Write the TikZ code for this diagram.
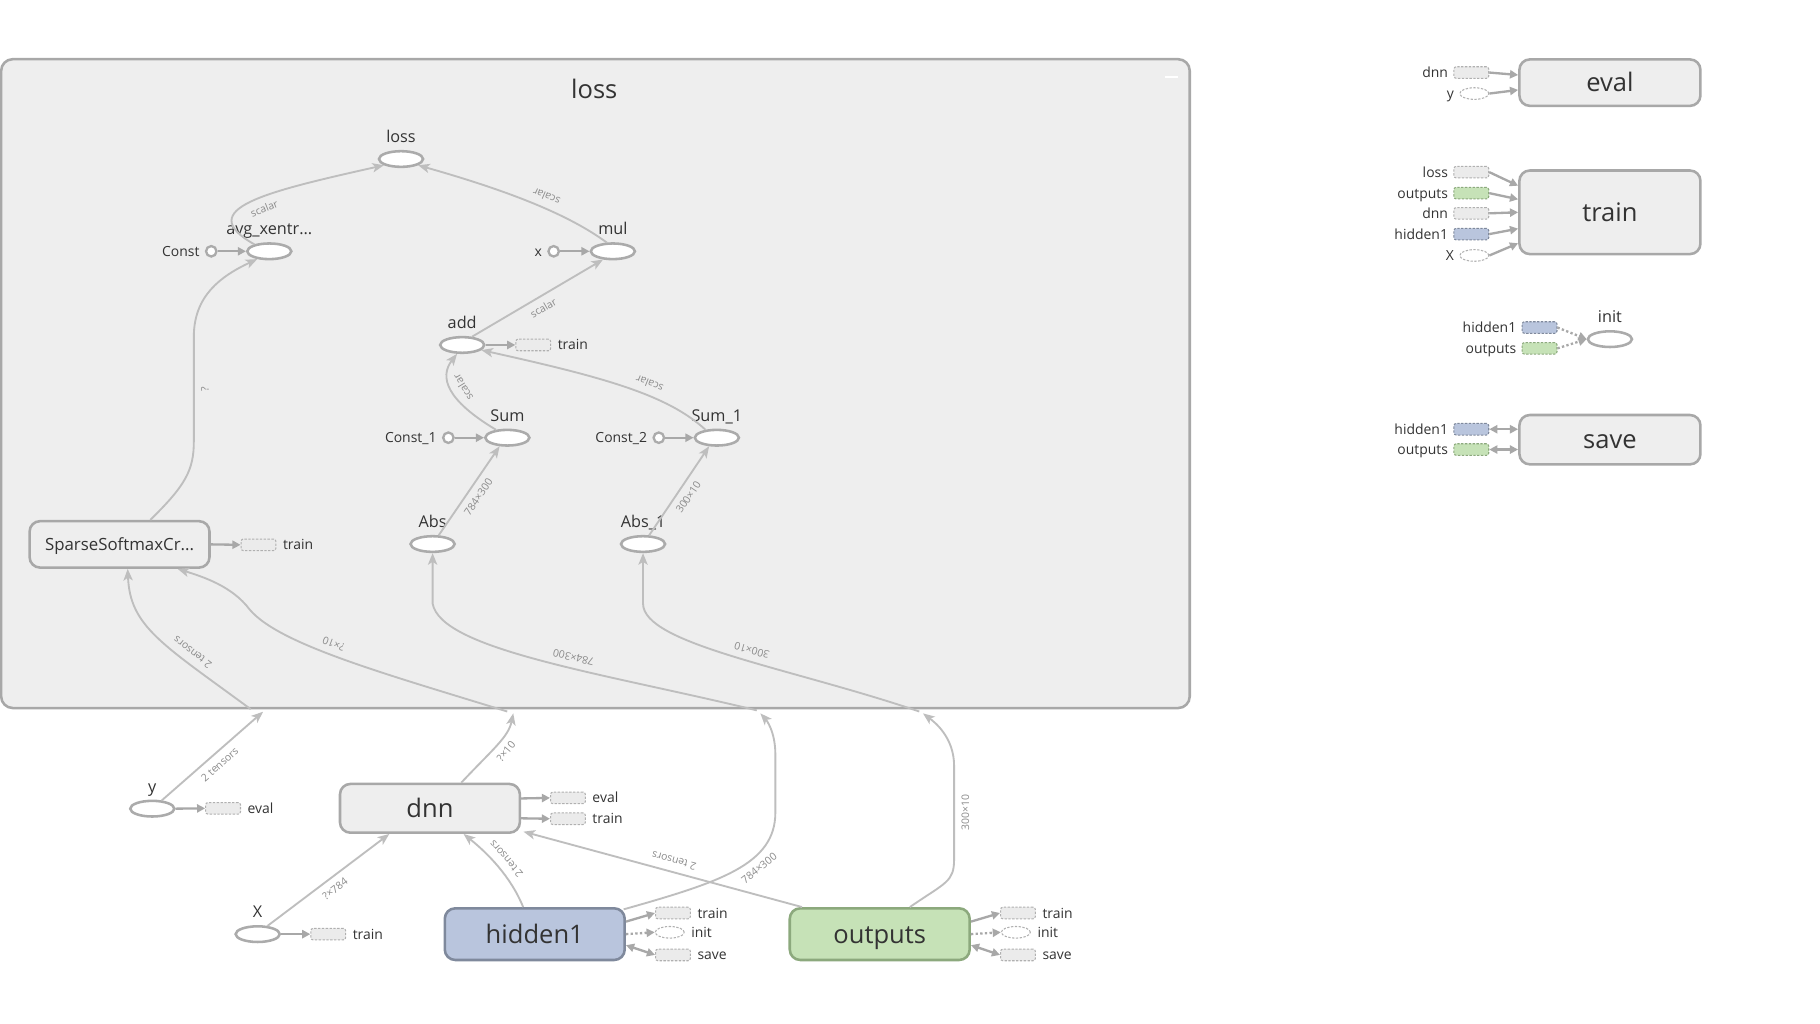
\documentclass[tikz,border=0pt]{standalone}
\usepackage{fontspec}
\setmainfont{Open Sans}
\usetikzlibrary{arrows.meta,shapes.geometric}

\definecolor{grpfill}{HTML}{EEEEEE}
\definecolor{grpline}{HTML}{A8A8A8}
\definecolor{opline}{HTML}{ABABAB}
\definecolor{edgec}{HTML}{BEBEBE}
\definecolor{tipc}{HTML}{A8A8A8}
\definecolor{txt}{HTML}{333333}
\definecolor{elabc}{HTML}{8A8A8A}
\definecolor{hidfill}{HTML}{B9C5DD}
\definecolor{hidline}{HTML}{7F899C}
\definecolor{outfill}{HTML}{C6E2B7}
\definecolor{outstroke}{HTML}{8CA97D}
\definecolor{stubline}{HTML}{B0B0B0}
\definecolor{stubfill}{HTML}{EBEBEB}

\newcommand{\setfs}[1]{\fontsize{#1}{#1}\selectfont}

\tikzset{
  op/.style={ellipse, draw=opline, fill=white, line width=2.2pt,
    minimum width=38pt, minimum height=13.5pt, inner sep=0pt},
  cst/.style={circle, draw=opline, fill=white, line width=2pt,
    minimum size=9pt, inner sep=0pt},
  grp/.style={rectangle, rounded corners=9pt, draw=grpline, fill=grpfill,
    line width=2.2pt, minimum width=155pt, minimum height=41pt,
    inner sep=0pt, font=\setfs{22}, text=txt,
    text height=15.5pt, text depth=0pt},
  stub/.style={rectangle, rounded corners=2pt, draw=stubline, fill=stubfill,
    line width=0.9pt, dash pattern=on 2pt off 1.3pt,
    minimum width=30pt, minimum height=10pt, inner sep=0pt},
  stubell/.style={stub, ellipse, fill=white, minimum width=25pt},
  hstub/.style={stub, fill=hidfill, draw=hidline},
  ostub/.style={stub, fill=outfill, draw=outstroke},
  smlab/.style={font=\setfs{12}, text=txt, inner sep=0pt},
  oplab/.style={label={[font=\setfs{14}, text=txt, inner sep=0pt,
    anchor=base, label distance=6.5pt]above:#1}},
  rlab/.style={label={[smlab, anchor=base west, yshift=-4.3pt,
    label distance=5.5pt]right:#1}},
  llab/.style={label={[smlab, anchor=base east, yshift=-4.3pt,
    label distance=4.5pt]left:#1}},
  flow/.style={draw=edgec, line width=1.6pt,
    -{Stealth[length=10pt,width=8pt,inset=2.5pt]}},
  feed/.style={draw=tipc, line width=2pt, -{Triangle[length=7pt,width=7pt]}},
  ctl/.style={feed, dash pattern=on 2pt off 2pt},
  twoway/.style={draw=tipc, line width=2pt,
    {Triangle[length=7pt,width=7pt]}-{Triangle[length=7pt,width=7pt]}},
  elab/.style={font=\setfs{9}, text=elabc, sloped, allow upside down,
    below=4.5pt, inner sep=1pt},
}

\begin{document}
\begin{tikzpicture}[x=1pt,y=-1pt]
\fill[white] (0,0) rectangle (1568,882);
\useasboundingbox (0,0) rectangle (1568,882);

% ---- the "loss" name scope ----
\node[grp, minimum width=1024pt, minimum height=559pt, rounded corners=10pt]
  (lossgrp) at (513,330.5) {};
\node[font=\setfs{22}, text=txt] (losstitle) at (512,77) {loss};
\draw[white, line width=1.6pt] (1004,66) -- (1015,66);

% operations inside the scope
\node[op, oplab=loss] (lossop) at (345.5,137) {};
\node[op, oplab={avg\_xentr...}] (avg) at (232,216.5) {};
\node[cst, llab=Const] (const) at (182,216.5) {};
\node[op, oplab=mul] (mul) at (528,216.5) {};
\node[cst, llab=x] (xc) at (477,216.5) {};
\node[op, oplab=add] (add) at (398.2,297.2) {};
\node[stub, rlab=train] (addtrain) at (459.4,297.2) {};
\node[op, oplab=Sum] (sum) at (437.1,377.1) {};
\node[cst, llab=Const\_1] (const1) at (386.3,377.1) {};
\node[op, oplab=Sum\_1] (sum1) at (617.6,377.1) {};
\node[cst, llab=Const\_2] (const2) at (567.6,377.1) {};
\node[op, oplab=Abs] (abs) at (372.7,468.7) {};
\node[op, oplab=Abs\_1] (abs1) at (554,468.7) {};
\node[grp, font=\setfs{14.5}, text height=10.5pt, minimum height=40pt] (sparse) at (103,469) {SparseSoftmaxCr...};
\node[stub, rlab=train] (sparsetrain) at (222.7,469.4) {};

% points where edges cross the scope border
\coordinate (yin) at (226.6,613.2);
\coordinate (yin2) at (216,611);
\coordinate (dnnin) at (442.2,614.6);
\coordinate (dnnin2) at (437,613);
\coordinate (hidin) at (655.1,614.6);
\coordinate (hidin2) at (652,612);
\coordinate (outin) at (795.2,614.6);
\coordinate (outin2) at (792,613);

% ---- top-level nodes ----
\node[op, oplab=y] (y) at (131.2,696.7) {};
\node[stub, rlab=eval] (yeval) at (192.2,696.4) {};
\node[grp, minimum height=42pt] (dnn) at (370.4,696.4) {dnn};
\node[stub, rlab=eval] (dnneval) at (489.3,687.4) {};
\node[stub, rlab=train] (dnntrain) at (489.3,705.4) {};
\node[op, oplab=X] (xin) at (222,804.8) {};
\node[stub, rlab=train] (xtrain) at (282.8,804.8) {};
\node[grp, fill=hidfill, draw=hidline, minimum height=44.5pt] (hid) at (460.7,804.8) {hidden1};
\node[stub, rlab=train] (hidtrain) at (579.8,786.6) {};
\node[stubell, rlab=init] (hidinit) at (577,803.2) {};
\node[stub, rlab=save] (hidsave) at (579.8,822.7) {};
\node[grp, fill=outfill, draw=outstroke, minimum height=44.5pt] (out) at (757.9,804.8) {outputs};
\node[stub, rlab=train] (outtrain) at (877,786.6) {};
\node[stubell, rlab=init] (outinit) at (875.2,803.2) {};
\node[stub, rlab=save] (outsave) at (877,822.7) {};

% ---- auxiliary nodes on the right ----
\node[grp, minimum width=156pt, minimum height=40pt] (eval) at (1387,71.2) {eval};
\node[stub, llab=dnn] (evdnn) at (1267.6,62.5) {};
\node[stubell, llab=y] (evy) at (1270.2,80.6) {};
\node[grp, minimum width=156pt, minimum height=72pt] (train) at (1387,182.9) {train};
\node[stub, llab=loss] (trloss) at (1267.6,148.3) {};
\node[ostub, llab=outputs] (trout) at (1267.6,166.4) {};
\node[stub, llab=dnn] (trdnn) at (1267.6,183.8) {};
\node[hstub, llab=hidden1] (trhid) at (1267.6,201.7) {};
\node[stubell, llab=X] (trx) at (1270.2,220.1) {};
\node[op, oplab=init] (init) at (1387,292.2) {};
\node[hstub, llab=hidden1] (inhid) at (1326.4,282.2) {};
\node[ostub, llab=outputs] (inout) at (1326.4,300.1) {};
\node[grp, minimum width=156pt, minimum height=42.5pt] (save) at (1387,378.8) {save};
\node[hstub, llab=hidden1] (svhid) at (1267.6,369.8) {};
\node[ostub, llab=outputs] (svout) at (1267.6,387.3) {};

% ---- data flow inside the scope ----
\draw[flow] (avg.155) .. controls (165,180) and (230,165) ..
  node[elab, pos=0.55] {scalar} (lossop.200);
\draw[flow] (mul.125) .. controls (490,185) and (440,165) ..
  node[elab, pos=0.45] {scalar} (lossop.-20);
\draw[flow] (add.40) -- node[elab] {scalar} (mul.220);
\draw[flow] (sum.145) .. controls (385,345) and (378,325) ..
  node[elab, pos=0.45] {scalar} (add.240);
\draw[flow] (sum1.145) .. controls (575,340) and (520,325) ..
  node[elab, pos=0.4] {scalar} (add.-15);
\draw[flow] (abs.55) -- node[elab] {784×300} (sum.228);
\draw[flow] (abs1.55) -- node[elab] {300×10} (sum1.228);
\draw[flow] ([xshift=26.5pt]sparse.north) .. controls (160,418) and (167,405) ..
  (167,380) -- node[elab] {?} (167,290) .. controls (167,255) and (190,238) .. (avg.213);

\draw[feed] (const.east) -- (avg.west);
\draw[feed] (xc.east) -- (mul.west);
\draw[feed] (const1.east) -- (sum.west);
\draw[feed] (const2.east) -- (sum1.west);
\draw[feed] (add.east) -- (addtrain.west);
\draw[feed] (sparse.east) -- (sparsetrain.west);

% ---- edges entering the scope ----
\draw[flow] (y.41) -- node[elab] {2 tensors} (yin);
\draw[flow] (yin2) .. controls (140,555) and (112,540) ..
  node[elab, pos=0.3] {2 tensors} ([xshift=7pt]sparse.south);
\draw[flow] ([xshift=27pt]dnn.north) .. controls (425,645) and (438,635) ..
  node[elab, pos=0.5] {?×10} (dnnin);
\draw[flow] (dnnin2) .. controls (330,580) and (240,555) ..
  node[elab, pos=0.55] {?×10} (215,525) .. controls (200,505) and (175,497) ..
  ([xshift=50pt]sparse.south);
\draw[flow] ([xshift=-2pt,yshift=-2pt]hid.north east) .. controls (620,760) and (668,745) ..
  node[elab, pos=0.62] {784×300} (668,700) -- (668,650) .. controls (668,630) and (660,620) .. (hidin);
\draw[flow] (hidin2) .. controls (520,580) and (380,560) ..
  node[elab, pos=0.42] {784×300} (372.7,520) -- (abs.south);
\draw[flow] ([xshift=26pt]out.north) .. controls (815,760) and (822,760) ..
  (822,740) -- node[elab] {300×10} (822,660) .. controls (822,635) and (805,622) .. (outin);
\draw[flow] (outin2) .. controls (680,575) and (554,555) ..
  node[elab, pos=0.45] {300×10} (554,520) -- (abs1.south);

% ---- top-level data flow ----
\draw[flow] (xin.40) -- node[elab] {?×784} ([xshift=-35pt]dnn.south);
\draw[flow] ([xshift=-10pt]hid.north) .. controls (440,755) and (420,735) ..
  node[elab, pos=0.5] {2 tensors} ([xshift=29pt]dnn.south);
\draw[flow] ([xshift=-67pt]out.north) -- node[elab, pos=0.47] {2 tensors}
  ([xshift=2pt,yshift=2pt]dnn.south east);

\draw[feed] (y.east) -- (yeval.west);
\draw[feed] (xin.east) -- (xtrain.west);
\draw[feed] ([yshift=8.5pt]dnn.east) -- (dnneval.west);
\draw[feed] ([yshift=-8.6pt]dnn.east) -- (dnntrain.west);
\draw[feed] ([yshift=10.8pt]hid.east) -- (hidtrain.west);
\draw[ctl] (hid.east) -- (hidinit.west);
\draw[twoway] ([yshift=-9.5pt]hid.east) -- (hidsave.west);
\draw[feed] ([yshift=10.8pt]out.east) -- (outtrain.west);
\draw[ctl] (out.east) -- (outinit.west);
\draw[twoway] ([yshift=-9.5pt]out.east) -- (outsave.west);

% ---- auxiliary inputs ----
\draw[feed] (evdnn.east) -- ([yshift=6.6pt]eval.west);
\draw[feed] (evy.east) -- ([yshift=-6.3pt]eval.west);
\draw[feed] (trloss.east) -- ([yshift=22.9pt]train.west);
\draw[feed] (trout.east) -- ([yshift=11.2pt]train.west);
\draw[feed] (trdnn.east) -- (train.west);
\draw[feed] (trhid.east) -- ([yshift=-14.1pt]train.west);
\draw[feed] (trx.east) -- ([yshift=-26.7pt]train.west);
\draw[ctl] (inhid.east) -- (init.west);
\draw[ctl] (inout.east) -- (init.west);
\draw[twoway] (svhid.east) -- ([yshift=9pt]save.west);
\draw[twoway] (svout.east) -- ([yshift=-8.5pt]save.west);
\end{tikzpicture}
\end{document}
